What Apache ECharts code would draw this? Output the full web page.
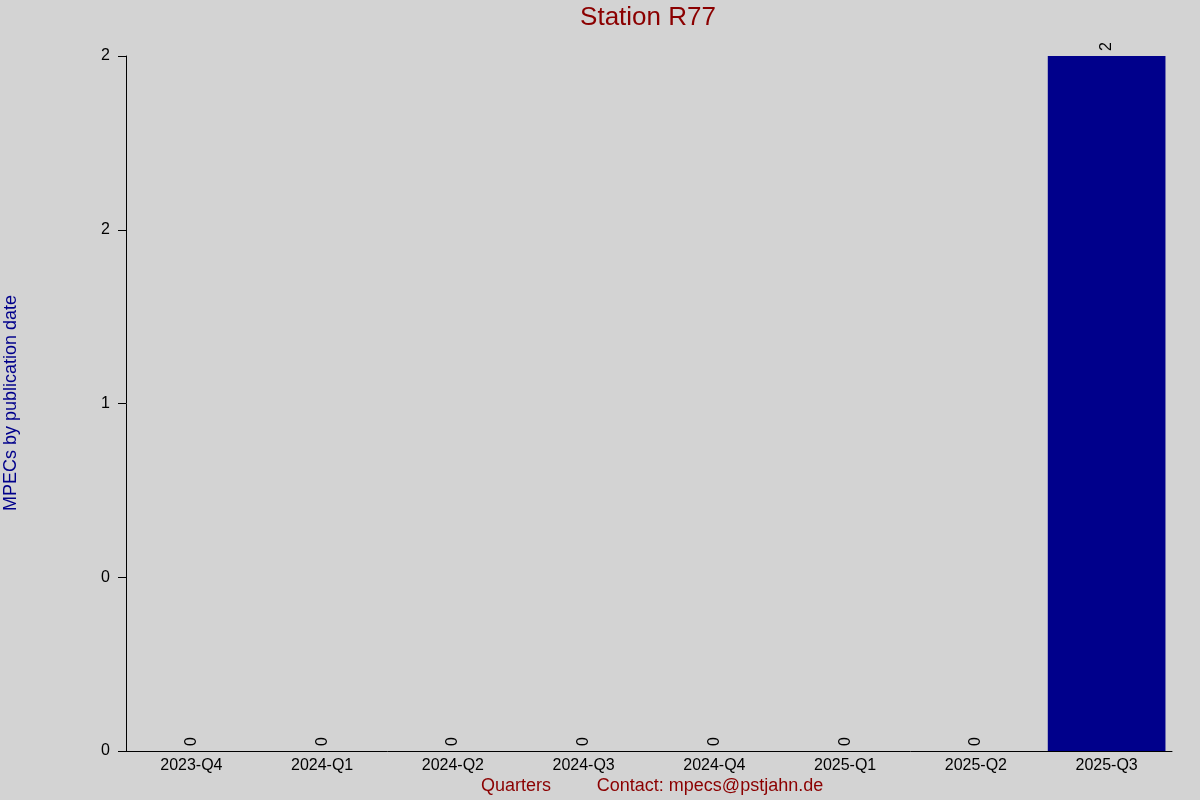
<!DOCTYPE html>
<html>
<head>
<meta charset="utf-8">
<script src="https://cdn.jsdelivr.net/npm/echarts@6/dist/echarts.min.js"></script>
<style>
html,body{margin:0;padding:0;background:#d3d3d3;}
#chart{width:1200px;height:800px;}
</style>
</head>
<body>
<div id="chart"></div>
<script>
var categories = ['2023-Q4','2024-Q1','2024-Q2','2024-Q3','2024-Q4','2025-Q1','2025-Q2','2025-Q3'];
var values = [0,0,0,0,0,0,0,2];
var yTickValues = [0,0.5,1,1.5,2];
var yTickLabels = ['0','0','1','2','2'];
var titleText = 'Station R77';
var yAxisTitle = 'MPECs by publication date';
var xAxisTitle = 'Quarters';
var contactText = 'Contact: mpecs@pstjahn.de';

var FONT = '"Liberation Sans", Arial, sans-serif';
var chart = echarts.init(document.getElementById('chart'));
chart.setOption({
  backgroundColor: '#d3d3d3',
  animation: false,
  graphic: [
    {type: 'text', x: 648, y: 18,
     style: {text: titleText, fill: '#8b0000', fontSize: 26, fontFamily: FONT, align: 'center', verticalAlign: 'middle'}},
    {type: 'text', x: 11, y: 403, rotation: Math.PI / 2,
     style: {text: yAxisTitle, fill: '#00008b', fontSize: 18, fontFamily: FONT, align: 'center', verticalAlign: 'middle'}},
    {type: 'text', x: 516, y: 786,
     style: {text: xAxisTitle, fill: '#8b0000', fontSize: 18, fontFamily: FONT, align: 'center', verticalAlign: 'middle'}},
    {type: 'text', x: 710, y: 786,
     style: {text: contactText, fill: '#8b0000', fontSize: 18, fontFamily: FONT, align: 'center', verticalAlign: 'middle'}}
  ],
  grid: {left: 126, right: 28, top: 56, bottom: 49},
  xAxis: {
    type: 'category', data: categories,
    axisLine: {lineStyle: {color: '#000', width: 1}},
    axisTick: {show: false},
    axisLabel: {color: '#000', fontSize: 16, margin: 7, fontFamily: FONT}
  },
  yAxis: {
    type: 'value', min: 0, max: 2, interval: 0.5,
    axisLine: {show: true, lineStyle: {color: '#000', width: 1}},
    axisTick: {show: true, length: 8, lineStyle: {color: '#000'}},
    splitLine: {show: false},
    axisLabel: {
      color: '#000', fontSize: 16, margin: 16, fontFamily: FONT,
      formatter: function (v) {
        var i = yTickValues.indexOf(v);
        return i >= 0 ? yTickLabels[i] : '';
      }
    }
  },
  series: [{
    type: 'bar', data: values, barWidth: '90%',
    itemStyle: {color: '#00008b'},
    label: {
      show: true, position: 'top', rotate: 90, distance: 5,
      align: 'left', verticalAlign: 'middle',
      color: '#000', fontSize: 16, fontFamily: FONT
    }
  }]
});
</script>
</body>
</html>
